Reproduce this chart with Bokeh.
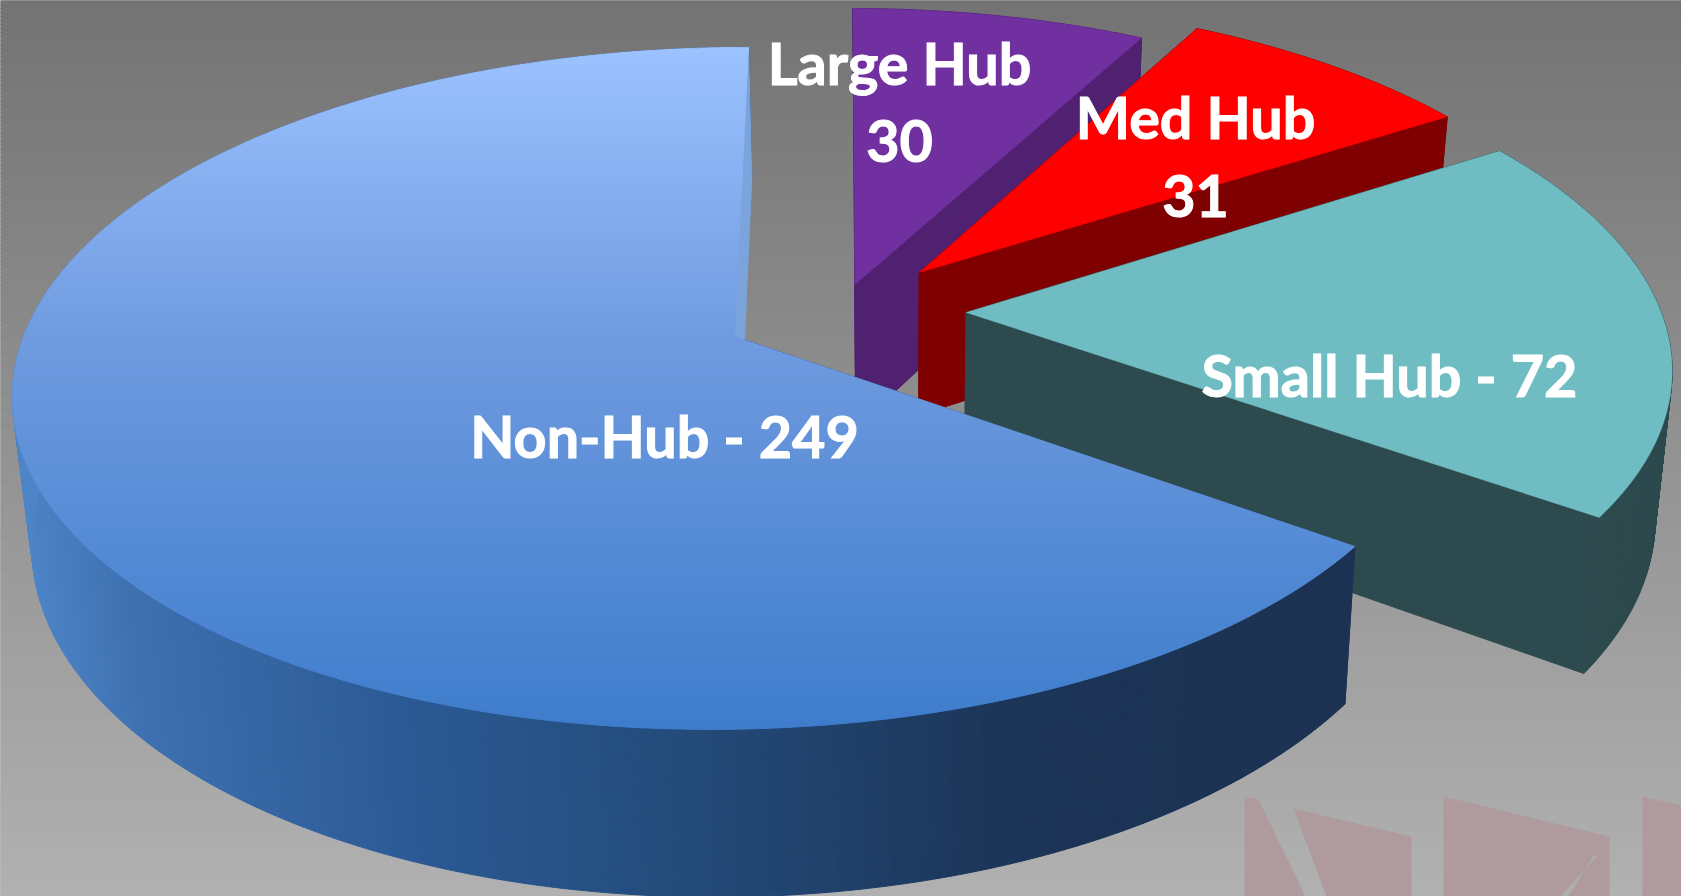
from bokeh.plotting import figure
from bokeh.embed import file_html
from bokeh.resources import INLINE
from bokeh.core.properties import value
import numpy as np

# ---- data ----
categories = ["Large Hub", "Med Hub", "Small Hub", "Non-Hub"]
values = [30, 31, 72, 249]

# ---- style / layout ----
W, H = 1681, 896
explode = [0.10, 0.163, 0.158, 0.163]
nudge_u = [0.001, 0.009, 0.027, 0.0]
nudge_v = [-0.013, 0.003, 0.001, 0.0]
top_colors = ["#7030A0", "#FF0000", "#6FBDC2", None]
side_colors = ["#4F2170", "#7F0000", "#2D4A4E", None]
START_DEG = 1.3
Xa, Ya, Rx, Ry, G, GU, SHEAR = 734.0, 336.0, 708.0, 333.0, 0.152, 0.008, 8.0
VX, SHRINK, DEPTH, DEPTH_K = 900.0, 0.022, 156.0, 0.055

label_text = ["Large Hub", "30", "Med Hub", "31", "Small Hub - 72", "Non-Hub - 249"]
label_x = [899, 899, 1195, 1195, 1389, 664]
label_y = [62, 140, 116, 195, 374, 435]
FONT_PX = 57.5


def hexrgb(h):
    return np.array([int(h[i:i + 2], 16) for i in (1, 3, 5)], float)


def ramp(t, ts, cols):
    c = np.array([hexrgb(k) for k in cols])
    return "#%02x%02x%02x" % tuple(int(round(np.interp(t, ts, c[:, i]))) for i in range(3))


def project(u, v):
    w = 1 + G * v + GU * u
    return Xa + Rx * u / w, Ya - (Ry * v + SHEAR * u) / w


def lower(x, y):
    return x + SHRINK * (VX - x), y + DEPTH + DEPTH_K * (y - 517)


def clip_band(poly, y0, y1):
    def clip(pts, inside, cross):
        out = []
        n = len(pts)
        for i in range(n):
            a, b = pts[i], pts[(i + 1) % n]
            ia, ib = inside(a), inside(b)
            if ia:
                out.append(a)
            if ia != ib:
                out.append(cross(a, b))
        return out

    def cross_at(yc):
        def f(a, b):
            t = (yc - a[1]) / (b[1] - a[1])
            return (a[0] + t * (b[0] - a[0]), yc)
        return f

    pts = clip(poly, lambda p: p[1] >= y0, cross_at(y0))
    if pts:
        pts = clip(pts, lambda p: p[1] <= y1, cross_at(y1))
    return pts


p = figure(width=W, height=H, x_range=(0, W), y_range=(H, 0), min_border=0,
           toolbar_location=None, output_backend="svg", outline_line_color=None,
           background_fill_color="#909090", border_fill_color=None)
p.axis.visible = False
p.grid.visible = False
p.styles = {"position": "fixed", "left": "0px", "top": "0px"}

# background gradient
edges = np.arange(0, H + 4, 4)
bg_cols = [ramp(e + 2, [0, H], ["#737373", "#B1B1B1"]) for e in edges[:-1]]
p.quad(left=-5, right=W + 5, top=edges[:-1], bottom=edges[1:], fill_color=bg_cols, line_color=bg_cols, line_width=1)

# faint logo fragment behind the chart
wm_x = [[1244, 1258, 1305, 1244], [1293, 1411, 1411, 1326], [1443, 1609, 1609, 1443], [1642, 1681, 1681, 1642]]
wm_y = [[796, 799, 896, 896], [808, 836, 896, 896], [796, 836, 896, 896], [796, 805, 896, 896]]
p.patches(wm_x, wm_y, fill_color="#AF9B9D", line_color=None)
p.patch([1597, 1560, 1568, 1593], [855, 896, 896, 855], fill_color="#AEAEAE", line_color=None)

# pie geometry from the values
vals = np.array(values, float)
sweeps = vals / vals.sum() * 360
starts = START_DEG + np.concatenate([[0], np.cumsum(sweeps)[:-1]])
mids = np.radians(starts + sweeps / 2)
base = explode[3] * np.array([np.sin(mids[3]), np.cos(mids[3])])

wall_stops_x = [10, 130, 400, 700, 1000, 1360]
wall_stops_c = ["#4F86C9", "#3E70B0", "#2B5A95", "#234A78", "#1C3558", "#1D3252"]
top_stops_y = [48, 345, 729]
top_stops_c = ["#9CC2FF", "#6E9ADF", "#3E7DCC"]

for i, cat in enumerate(categories):
    off = explode[i] * np.array([np.sin(mids[i]), np.cos(mids[i])]) - base
    off = off + np.array([nudge_u[i], nudge_v[i]])
    a = np.radians(np.linspace(starts[i], starts[i] + sweeps[i], int(sweeps[i] * 3) + 2))
    ex, ey = project(off[0] + np.sin(a), off[1] + np.cos(a))
    ox, oy = project(off[0], off[1])
    bx, by = lower(ex, ey)
    obx, oby = lower(ox, oy)
    is_gradient = top_colors[i] is None
    xs, ys, cs = [], [], []
    # cut wall at the clockwise-first edge, then the outer wall, then the last edge
    first_wall = "#1D3252" if is_gradient else side_colors[i]
    last_wall = "#7BA3DC" if is_gradient else side_colors[i]
    xs.append([ox, ex[0], bx[0], obx]); ys.append([oy, ey[0], by[0], oby]); cs.append(first_wall)
    for k in range(len(a) - 1):
        xs.append([ex[k], ex[k + 1], bx[k + 1], bx[k]])
        ys.append([ey[k], ey[k + 1], by[k + 1], by[k]])
        if is_gradient:
            cs.append(ramp((ex[k] + ex[k + 1]) / 2, wall_stops_x, wall_stops_c))
        else:
            cs.append(side_colors[i])
    xs.append([ox, ex[-1], bx[-1], obx]); ys.append([oy, ey[-1], by[-1], oby]); cs.append(last_wall)
    p.patches(xs, ys, fill_color=cs, line_color=cs, line_width=1)
    # top face
    tx = np.concatenate([[ox], ex])
    ty = np.concatenate([[oy], ey])
    if not is_gradient:
        p.patch(tx, ty, fill_color=top_colors[i], line_color=top_colors[i], line_width=0.4)
    else:
        poly = list(zip(tx, ty))
        lo, hi = ty.min(), ty.max()
        bands = np.arange(np.floor(lo), hi + 3, 3)
        bx2, by2, bc = [], [], []
        for y0, y1 in zip(bands[:-1], bands[1:]):
            pts = clip_band(poly, y0, y1)
            if len(pts) >= 3:
                bx2.append([q[0] for q in pts])
                by2.append([q[1] for q in pts])
                bc.append(ramp((y0 + y1) / 2, top_stops_y, top_stops_c))
        p.patches(bx2, by2, fill_color=bc, line_color=bc, line_width=1)

# labels
p.text(label_x, label_y, text=label_text, text_color="white", text_align="center",
       text_baseline="middle", text_font=value("Lato"), text_font_style="bold",
       text_font_size=f"{FONT_PX}px", text_outline_color="white")

open("out.html", "w").write(file_html(p, INLINE))
